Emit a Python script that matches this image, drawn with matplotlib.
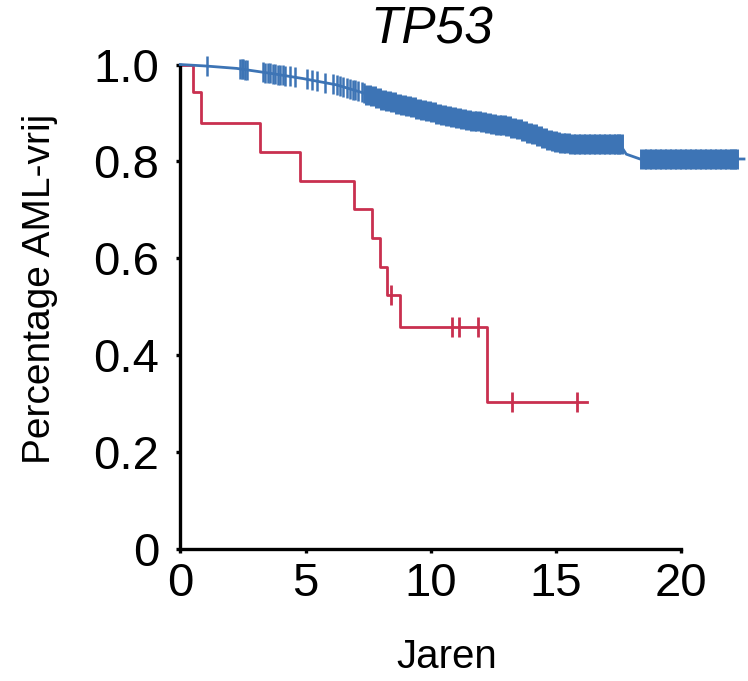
import numpy as np
import matplotlib.pyplot as plt

plt.rcParams['font.family'] = ['Liberation Sans', 'DejaVu Sans']

# Wild-type curve
blue_t = [0, 1.0, 2.25, 3.58, 4.9, 6.24, 7.2, 8.2, 9.17, 10.2, 11.17, 12.2,
          13.16, 14.0, 14.48, 15.0, 15.5, 17.55, 17.8, 18.35, 22.5]
blue_s = [1.0, 0.997, 0.992, 0.982, 0.971, 0.958, 0.943, 0.926, 0.913, 0.900,
          0.889, 0.880, 0.872, 0.858, 0.848, 0.841, 0.837, 0.835, 0.815, 0.805, 0.805]

# censored cases, wild type (sparse early, dense later)
blue_cens_sparse = [1.05, 2.38, 2.45, 2.52, 2.6, 2.68, 3.3, 3.4, 3.5, 3.6, 3.7,
                    3.8, 3.9, 4.0, 4.1, 4.18, 4.38, 4.58, 5.05, 5.25, 5.45, 5.78,
                    6.1, 6.24, 6.37, 6.5, 6.64, 6.78, 6.9, 6.98, 7.11, 7.24, 7.34]
blue_cens_dense = [7.5, 7.7, 7.9, 8.1, 8.3, 8.5, 8.7, 8.9, 9.1, 9.3, 9.5, 9.7,
                   9.9, 10.1, 10.3, 10.5, 10.7, 10.9, 11.1, 11.3, 11.5, 11.7,
                   11.9, 12.1, 12.3, 12.5, 12.7, 12.9, 13.1, 13.3, 13.5, 13.7,
                   13.9, 14.1, 14.3, 14.5, 14.7, 14.9, 15.05,
                   15.25, 15.45, 15.65, 15.85, 16.05, 16.25, 16.45, 16.65, 16.85,
                   17.05, 17.25, 17.45, 17.55,
                   18.45, 18.65, 18.85, 19.05, 19.25, 19.45, 19.65, 19.85, 20.05,
                   20.25, 20.45, 20.65, 20.85, 21.05, 21.25, 21.45, 21.65, 21.85,
                   22.05, 22.15]

# TP53 mutated curve
red_t = [0, 0.52, 0.83, 3.18, 4.78, 6.95, 7.64, 7.97, 8.24, 8.77, 12.23, 16.22]
red_s = [1.0, 0.943, 0.879, 0.819, 0.760, 0.702, 0.641, 0.583, 0.524, 0.458, 0.304, 0.304]
red_cens = [8.42, 10.83, 11.13, 11.87, 13.25, 15.85]

BLUE = '#3d74b5'
RED = '#c9304f'


def step_value(t, times, surv):
    idx = np.searchsorted(times, t, side='right') - 1
    return np.array(surv)[idx]


fig = plt.figure(figsize=(7.48, 6.81), dpi=100)
ax = fig.add_axes([0.241, 0.1938, 0.757, 0.7328])

ax.plot(blue_t, blue_s, color=BLUE, lw=2.0, clip_on=False, zorder=3)
ax.plot(blue_cens_sparse, np.interp(blue_cens_sparse, blue_t, blue_s), ls='none',
        marker='|', ms=14, mew=1.8, color=BLUE, clip_on=False, zorder=3)
ax.plot(blue_cens_dense, np.interp(blue_cens_dense, blue_t, blue_s), ls='none',
        marker='|', ms=14, mew=5.0, color=BLUE, clip_on=False, zorder=3)

ax.step(red_t, red_s, where='post', color=RED, lw=2.0, clip_on=False, zorder=2)
ax.plot(red_cens, step_value(red_cens, red_t, red_s), ls='none',
        marker='|', ms=15, mew=2.0, color=RED, clip_on=False, zorder=2)

ax.set_xlim(0, 22.6)
ax.set_ylim(0, 1.03)
ax.set_xticks([0, 5, 10, 15, 20])
ax.set_yticks([0, 0.2, 0.4, 0.6, 0.8, 1.0])
ax.set_yticklabels(['0', '0.2', '0.4', '0.6', '0.8', '1.0'])

for s in ['top', 'right']:
    ax.spines[s].set_visible(False)
ax.spines['left'].set_bounds(0, 1.0)
ax.spines['bottom'].set_bounds(0, 20)
for s in ['left', 'bottom']:
    ax.spines[s].set_linewidth(2.4)
ax.tick_params(axis='both', length=3, width=2.4, labelsize=34, direction='out')
ax.tick_params(axis='y', pad=12)
ax.tick_params(axis='x', pad=6)

ax.set_ylabel('Percentage AML-vrij', fontsize=28)
ax.yaxis.set_label_coords(-0.216, 0.521)
ax.set_xlabel('Jaren', fontsize=29)
ax.xaxis.set_label_coords(0.471, -0.178)

fig.text(432 / 748, 0.956, 'TP53', fontsize=37, style='italic', ha='center', va='center')

fig.savefig('out.png', dpi=100)
